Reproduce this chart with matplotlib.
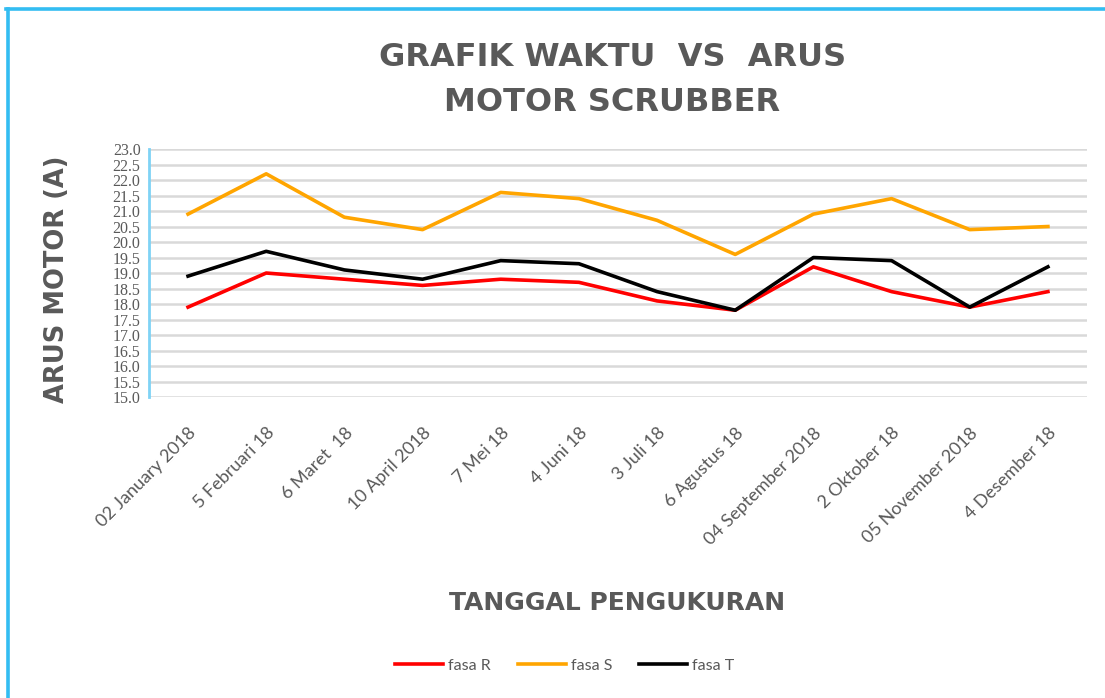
import matplotlib.pyplot as plt
from matplotlib.lines import Line2D

# data
tanggal = ["02 January 2018", "5 Februari 18", "6 Maret  18", "10 April 2018",
           "7 Mei 18", "4 Juni 18", "3 Juli 18", "6 Agustus 18",
           "04 September 2018", "2 Oktober 18", "05 November 2018", "4 Desember 18"]
fasa_r = [17.9, 19.0, 18.8, 18.6, 18.8, 18.7, 18.1, 17.8, 19.2, 18.4, 17.9, 18.4]
fasa_s = [20.9, 22.2, 20.8, 20.4, 21.6, 21.4, 20.7, 19.6, 20.9, 21.4, 20.4, 20.5]
fasa_t = [18.9, 19.7, 19.1, 18.8, 19.4, 19.3, 18.4, 17.8, 19.5, 19.4, 17.9, 19.2]
y_ticks = [15.0 + 0.5 * i for i in range(17)]

GREY = "#595959"
BORDER = "#33BDF2"

fig = plt.figure(figsize=(11.05, 6.98), dpi=100)
ax = fig.add_axes([0.1348, 0.4312, 0.8489, 0.3553])

x = range(len(tanggal))
ax.plot(x, fasa_r, color="#FF0000", lw=2.6, label="fasa R")
ax.plot(x, fasa_s, color="#FFA500", lw=2.6, label="fasa S")
ax.plot(x, fasa_t, color="#000000", lw=2.6, label="fasa T")

ax.set_xlim(-0.5, len(tanggal) - 0.5)
ax.set_ylim(15.0, 23.0)
ax.set_yticks(y_ticks)
ax.set_yticklabels([f"{v:.1f}" for v in y_ticks], family="Liberation Serif",
                   fontsize=11.5, color=GREY)
ax.set_xticks(list(x))
ax.set_xticklabels(tanggal, rotation=45, ha="right", rotation_mode="anchor",
                   family="Lato", fontsize=13, color=GREY)
ax.tick_params(axis="x", length=0, pad=20)
ax.tick_params(axis="y", length=0, pad=6)

ax.grid(axis="y", color="#D9D9D9", lw=1.8)
ax.set_axisbelow(True)
for side in ["top", "right", "bottom"]:
    ax.spines[side].set_visible(False)
ax.spines["left"].set_color("#7FD3F5")
ax.spines["left"].set_linewidth(2)

# titles
fig.text(0.554, 0.918, "GRAFIK WAKTU  VS  ARUS", ha="center", va="center",
         fontsize=23, fontweight="bold", color=GREY)
fig.text(0.554, 0.853, "MOTOR SCRUBBER", ha="center", va="center",
         fontsize=23, fontweight="bold", color=GREY)
fig.text(0.052, 0.60, "ARUS MOTOR (A)", rotation=90, ha="center", va="center",
         fontsize=18.5, fontweight="bold", color=GREY)
fig.text(0.558, 0.136, "TANGGAL PENGUKURAN", ha="center", va="center",
         fontsize=18, fontweight="bold", color=GREY)

leg = fig.legend(loc="center", bbox_to_anchor=(0.511, 0.046), ncol=3, frameon=False,
                 prop={"family": "Lato", "size": 11.5}, handlelength=3.0,
                 columnspacing=1.7, handletextpad=0.3)
for t in leg.get_texts():
    t.set_color(GREY)

# outer frame (only top and left edges show)
fig.add_artist(Line2D([0.005, 1.0], [0.987, 0.987], transform=fig.transFigure,
                      color=BORDER, lw=2.6))
fig.add_artist(Line2D([0.0068, 0.0068], [0.0, 0.987], transform=fig.transFigure,
                      color=BORDER, lw=2.6))

fig.savefig("out.png", dpi=100)
